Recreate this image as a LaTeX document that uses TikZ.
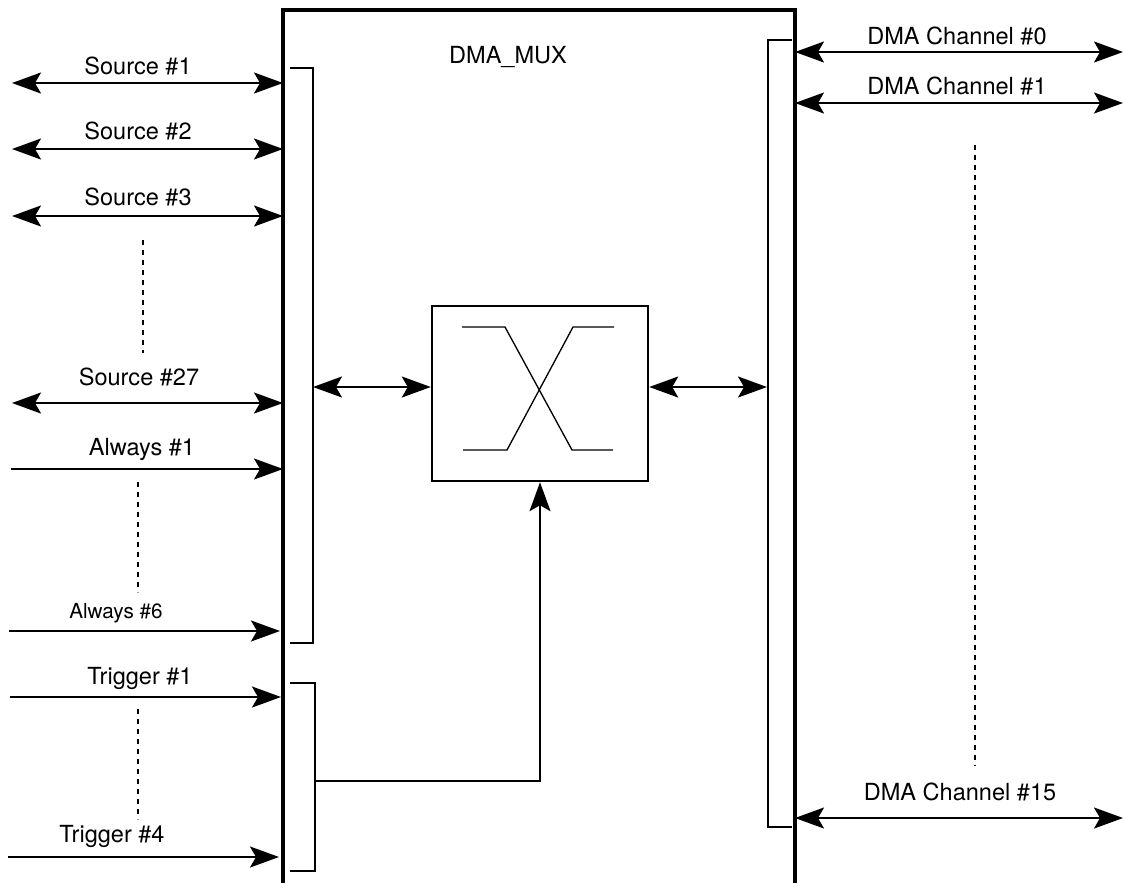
\documentclass[tikz,border=0pt]{standalone}
\usepackage{fontspec}
\setmainfont{TeX Gyre Heros}
\usetikzlibrary{arrows.meta}
\begin{document}
\begin{tikzpicture}[x=0.02cm,y=-0.02cm,
  >={Stealth[length=0.58cm,width=0.42cm,inset=0.12cm]},
  lbl/.style={anchor=base,inner sep=0pt,font=\fontsize{13.4}{16}\selectfont},
  slbl/.style={anchor=base,inner sep=0pt,font=\fontsize{11.8}{14}\selectfont},
  sig/.style={line width=1.2pt},
  brk/.style={line width=1.2pt},
  dots/.style={line width=1.2pt,dash pattern=on 0.1cm off 0.1cm},
  xline/.style={line width=0.75pt}]
\useasboundingbox (0,0) rectangle (1125,883);

% main DMA_MUX block (open at bottom)
\coordinate (mbl) at (283,883);
\coordinate (mtl) at (283,10);
\coordinate (mtr) at (795,10);
\coordinate (mbr) at (795,883);
\draw[line width=1.9pt] (mbl) -- (mtl) -- (mtr) -- (mbr);
\node[lbl] (title) at (508,63) {DMA\_MUX};

% brackets
\coordinate (lb1) at (290,68); \coordinate (lb2) at (313,68);
\coordinate (lb3) at (313,643); \coordinate (lb4) at (290,643);
\draw[brk] (lb1) -- (lb2) -- (lb3) -- (lb4);
\coordinate (tb1) at (290,683); \coordinate (tb2) at (315,683);
\coordinate (tb3) at (315,871); \coordinate (tb4) at (290,871);
\draw[brk] (tb1) -- (tb2) -- (tb3) -- (tb4);
\coordinate (rb1) at (792,40); \coordinate (rb2) at (768,40);
\coordinate (rb3) at (768,827); \coordinate (rb4) at (792,827);
\draw[brk] (rb1) -- (rb2) -- (rb3) -- (rb4);

% mux
\node[draw,line width=1.4pt,inner sep=0pt,minimum width=4.32cm,minimum height=3.5cm] (mux) at (540,393.5) {};
\draw[xline] (462,327) -- (505,327) -- (572,450) -- (613,450);
\draw[xline] (463,450) -- (507,450) -- (573,327) -- (614,327);

\coordinate (lbm) at (313,387);
\coordinate (rbm) at (767,387);
\coordinate (tbm) at (315,781);
\draw[sig,<->] (lbm) -- (mux.west |- lbm);
\draw[sig,<->] (mux.east |- rbm) -- (rbm);
\draw[sig,->] (tbm) -| (mux.south);

% left signals
\coordinate (s1a) at (12,83); \coordinate (s1b) at (283,83);
\draw[sig,<->] (s1a) -- (s1b);
\node[lbl] (s1) at (138,74) {Source \#1};
\coordinate (s2a) at (12,149); \coordinate (s2b) at (283,149);
\draw[sig,<->] (s2a) -- (s2b);
\node[lbl] (s2) at (138,139) {Source \#2};
\coordinate (s3a) at (12,216); \coordinate (s3b) at (283,216);
\draw[sig,<->] (s3a) -- (s3b);
\node[lbl] (s3) at (138,205) {Source \#3};
\coordinate (d1a) at (143,240); \coordinate (d1b) at (143,353);
\draw[dots] (d1a) -- (d1b);
\coordinate (s27a) at (12,403); \coordinate (s27b) at (283,403);
\draw[sig,<->] (s27a) -- (s27b);
\node[lbl] (s27) at (139,385) {Source \#27};

\coordinate (a1a) at (11,469); \coordinate (a1b) at (283,469);
\draw[sig,->] (a1a) -- (a1b);
\node[lbl] (a1) at (142,455) {Always \#1};
\coordinate (d2a) at (138,482); \coordinate (d2b) at (138,592);
\draw[dots] (d2a) -- (d2b);
\coordinate (a6a) at (9,631); \coordinate (a6b) at (280,631);
\draw[sig,->] (a6a) -- (a6b);
\node[slbl] (a6) at (116,618) {Always \#6};

\coordinate (t1a) at (10,697); \coordinate (t1b) at (281,697);
\draw[sig,->] (t1a) -- (t1b);
\node[lbl] (t1) at (140,684) {Trigger \#1};
\coordinate (d3a) at (138,709); \coordinate (d3b) at (138,819);
\draw[dots] (d3a) -- (d3b);
\coordinate (t4a) at (8,857); \coordinate (t4b) at (279,857);
\draw[sig,->] (t4a) -- (t4b);
\node[lbl] (t4) at (112,842) {Trigger \#4};

% right channels
\coordinate (c0a) at (795,52); \coordinate (c0b) at (1123,52);
\draw[sig,<->] (c0a) -- (c0b);
\node[lbl] (c0) at (957,44) {DMA Channel \#0};
\coordinate (c1a) at (795,103); \coordinate (c1b) at (1123,103);
\draw[sig,<->] (c1a) -- (c1b);
\node[lbl] (c1) at (957,94) {DMA Channel \#1};
\coordinate (d4a) at (975,145); \coordinate (d4b) at (975,766);
\draw[dots] (d4a) -- (d4b);
\coordinate (c15a) at (795,818); \coordinate (c15b) at (1123,818);
\draw[sig,<->] (c15a) -- (c15b);
\node[lbl] (c15) at (960,800) {DMA Channel \#15};
\end{tikzpicture}
\end{document}
